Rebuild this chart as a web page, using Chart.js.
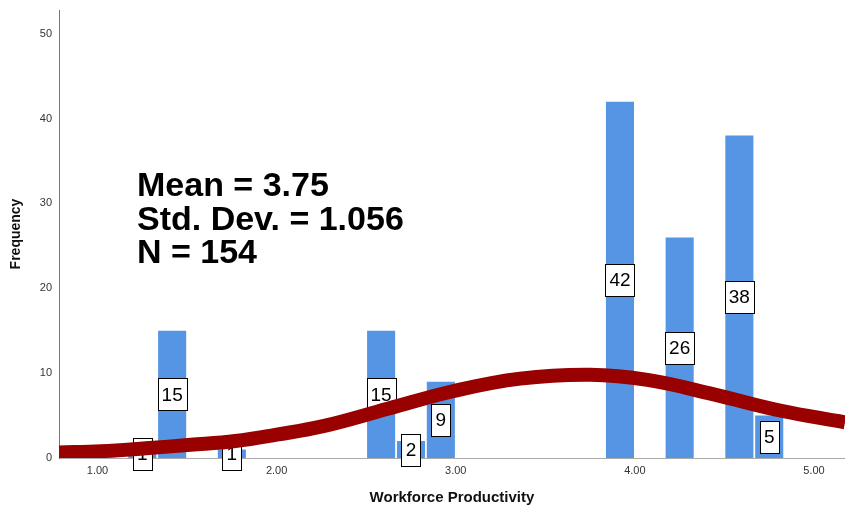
<!DOCTYPE html>
<html lang="en">
<head>
    <meta charset="UTF-8">
    <title>Workforce Productivity histogram</title>
    <script src="https://cdn.jsdelivr.net/npm/chart.js"></script>
    <style>
        body { margin: 0; background: #fff; }
    </style>
</head>
<body>
    <canvas id="chart" width="845" height="510"></canvas>

    <script>
        // histogram bins (centre of each bin) and counts
        const binCenters = [1.25, 1.4167, 1.75, 2.5833, 2.75, 2.9167, 3.9167, 4.25, 4.5833, 4.75];
        const frequencies = [1, 15, 1, 15, 2, 9, 42, 26, 38, 5];

        // normal curve
        const curveX = [0.785, 1.02, 1.27, 1.52, 1.77, 2.0, 2.26, 2.62, 2.99, 3.36, 3.75, 4.07, 4.44, 4.81, 5.173];
        const curveY = [0.65, 0.8, 1.15, 1.55, 2.0, 2.75, 3.75, 5.8, 7.9, 9.35, 9.8, 9.2, 7.5, 5.6, 4.2];

        const xTicks = [1, 2, 3, 4, 5];
        const yTicks = [0, 10, 20, 30, 40, 50];

        const statLines = ['Mean = 3.75', 'Std. Dev. = 1.056', 'N = 154'];

        const FONT = "'Liberation Sans', Arial, sans-serif";

        // white boxes with the count, in the middle of each bar (drawn before the curve)
        const barLabels = {
            id: 'barLabels',
            beforeDatasetDraw(chart, args) {
                if (args.index !== 1) return;
                const ctx = chart.ctx;
                const bars = chart.getDatasetMeta(0).data;
                ctx.save();
                ctx.font = '19px ' + FONT;
                ctx.textAlign = 'center';
                ctx.textBaseline = 'middle';
                bars.forEach((bar, i) => {
                    const txt = String(frequencies[i]);
                    const c = bar.getCenterPoint();
                    const w = Math.round(ctx.measureText(txt).width + 8);
                    const h = 32;
                    const x0 = Math.round(c.x - w / 2) + 0.5;
                    const y0 = Math.round(c.y - h / 2) + 0.5;
                    ctx.fillStyle = '#fff';
                    ctx.fillRect(x0, y0, w, h);
                    ctx.strokeStyle = '#000';
                    ctx.lineWidth = 1;
                    ctx.strokeRect(x0, y0, w, h);
                    ctx.fillStyle = '#000';
                    ctx.fillText(txt, c.x, c.y + 1);
                });
                ctx.restore();
            }
        };

        const statsText = {
            id: 'statsText',
            afterDraw(chart) {
                const ctx = chart.ctx;
                ctx.save();
                ctx.font = 'bold 34px ' + FONT;
                ctx.fillStyle = '#000';
                ctx.textBaseline = 'alphabetic';
                statLines.forEach((line, i) => {
                    ctx.fillText(line, 137, 196 + i * 33.5);
                });
                ctx.restore();
            }
        };

        new Chart(document.getElementById('chart'), {
            type: 'bar',
            data: {
                datasets: [
                    {
                        type: 'bar',
                        data: binCenters.map((x, i) => ({ x: x, y: frequencies[i] })),
                        backgroundColor: '#5694e4',
                        borderWidth: 0,
                        categoryPercentage: 1,
                        barPercentage: 0.94,
                        order: 1
                    },
                    {
                        type: 'line',
                        data: curveX.map((x, i) => ({ x: x, y: curveY[i] })),
                        borderColor: '#990000',
                        borderWidth: 14,
                        pointRadius: 0,
                        tension: 0.4,
                        fill: false,
                        clip: 0,
                        order: 0
                    }
                ]
            },
            options: {
                responsive: false,
                animation: false,
                layout: { padding: { top: 10, right: 0, left: 0, bottom: 0 } },
                plugins: {
                    legend: { display: false },
                    tooltip: { enabled: false }
                },
                scales: {
                    x: {
                        type: 'linear',
                        min: 0.785,
                        max: 5.173,
                        offset: false,
                        grid: { display: false, drawTicks: false },
                        border: { display: true, color: '#aaa', width: 1 },
                        afterBuildTicks: s => { s.ticks = xTicks.map(v => ({ value: v })); },
                        afterFit: s => { s.height = 52; s.paddingLeft = 0; s.paddingRight = 0; },
                        ticks: {
                            padding: 6,
                            color: '#333',
                            font: { family: FONT, size: 11 },
                            callback: v => Number(v).toFixed(2)
                        },
                        title: {
                            display: true,
                            text: 'Workforce Productivity',
                            color: '#111',
                            font: { family: FONT, size: 15, weight: 'bold' },
                            padding: { top: 0, bottom: 3 }
                        }
                    },
                    y: {
                        min: 0,
                        max: 52.8,
                        grid: { display: false, drawTicks: false },
                        border: { display: true, color: '#777', width: 1 },
                        afterBuildTicks: s => { s.ticks = yTicks.map(v => ({ value: v })); },
                        afterFit: s => { s.width = 59; s.paddingTop = 0; s.paddingBottom = 0; },
                        ticks: {
                            padding: 7,
                            color: '#333',
                            font: { family: FONT, size: 11 }
                        },
                        title: {
                            display: true,
                            text: 'Frequency',
                            color: '#111',
                            font: { family: FONT, size: 14, weight: 'bold' },
                            padding: { top: 8, bottom: 0 }
                        }
                    }
                }
            },
            plugins: [barLabels, statsText]
        });
    </script>
</body>
</html>
